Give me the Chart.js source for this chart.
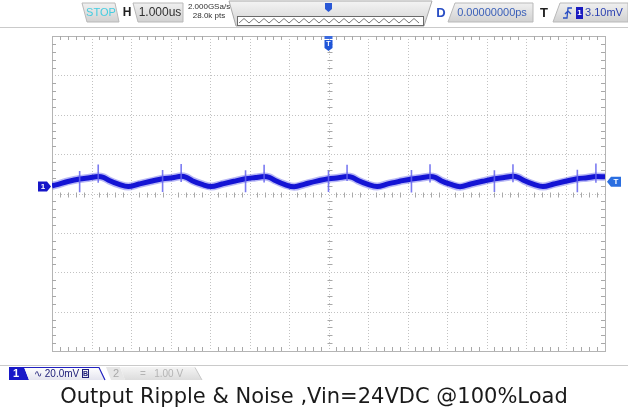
<!DOCTYPE html>
<html><head><meta charset="utf-8">
<script src="https://cdn.jsdelivr.net/npm/chart.js@4.4.0/dist/chart.umd.min.js"></script>
<style>html,body{margin:0;padding:0;background:#fff;overflow:hidden}</style>
</head><body>
<canvas id="c" width="628" height="412"></canvas>
<script>
// ---- data (time in microseconds relative to trigger, voltage in mV) ----
const timeUs = [-7.00,-6.90,-6.60,-6.30,-6.05,-5.83,-5.70,-5.55,-5.30,-5.07,
  -4.80,-4.50,-4.20,-3.95,-3.73,-3.60,-3.45,-3.20,-2.97,
  -2.70,-2.40,-2.10,-1.85,-1.63,-1.50,-1.35,-1.10,-0.87,
  -0.60,-0.30,0.00,0.25,0.47,0.60,0.75,1.00,1.23,
  1.50,1.80,2.10,2.35,2.57,2.70,2.85,3.10,3.33,
  3.60,3.90,4.20,4.45,4.67,4.80,4.95,5.20,5.43,
  5.70,6.00,6.30,6.55,6.77,7.00];
const rippleMv = [3.9,4.4,6.1,7.4,8.0,8.6,8.2,6.6,4.6,3.5,
  4.8,6.2,7.5,8.0,8.7,8.2,6.5,4.6,3.5,
  4.8,6.2,7.5,8.1,8.6,8.2,6.6,4.5,3.4,
  4.8,6.3,7.5,8.0,8.6,8.2,6.6,4.6,3.5,
  4.9,6.2,7.4,8.0,8.6,8.2,6.5,4.6,3.4,
  4.8,6.2,7.5,8.1,8.7,8.2,6.6,4.6,3.5,
  4.8,6.2,7.5,8.0,8.6,8.5];
const spikeUs = [-6.30,-5.83,-4.20,-3.73,-2.10,-1.63,0.00,0.47,2.10,2.57,4.20,4.67,6.30,6.77];
const spikeTopMv = [11.4,14.7,12.0,15.0,11.8,14.6,11.7,14.6,12.0,14.8,11.8,14.9,12.1,15.2];
const spikeBottomMv = [0.6,5.4,0.8,5.8,0.6,5.6,0.7,6.4,0.5,5.6,0.8,5.7,0.6,5.5];
const xDivUs = [-6,-5,-4,-3,-2,-1,0,1,2,3,4,5,6];
const yDivMv = [-60,-40,-20,0,20,40,60];
const captionText = 'Output Ripple & Noise ,Vin=24VDC @100%Load';

const tracePts = timeUs.map((t,i)=>({x:t,y:rippleMv[i]}));
const spikePts = [];
spikeUs.forEach((t,i)=>{ spikePts.push({x:t,y:spikeTopMv[i]}); spikePts.push({x:t,y:spikeBottomMv[i]}); spikePts.push({x:t,y:null}); });

function poly(ctx, pts, fill, stroke, lw){
  ctx.beginPath(); ctx.moveTo(pts[0][0],pts[0][1]);
  for(let i=1;i<pts.length;i++) ctx.lineTo(pts[i][0],pts[i][1]);
  ctx.closePath();
  if(fill){ctx.fillStyle=fill; ctx.fill();}
  if(stroke){ctx.strokeStyle=stroke; ctx.lineWidth=lw||1; ctx.stroke();}
}
function grad(ctx,y0,y1,c0,c1){const g=ctx.createLinearGradient(0,y0,0,y1); g.addColorStop(0,c0); g.addColorStop(1,c1); return g;}
function txt(ctx,s,x,y,font,color,align){ctx.font=font; ctx.fillStyle=color; ctx.textAlign=align||'left'; ctx.textBaseline='middle'; ctx.fillText(s,x,y);}

const scopePlugin = {
  id:'scope',
  beforeDatasetsDraw(chart){
    const ctx=chart.ctx, ca=chart.chartArea, xs=chart.scales.x, ys=chart.scales.y;
    ctx.save();
    ctx.strokeStyle='#c2c2c2'; ctx.lineWidth=1; ctx.setLineDash([1,2]);
    xDivUs.forEach(v=>{const p=Math.round(xs.getPixelForValue(v))+0.5; ctx.beginPath(); ctx.moveTo(p,ca.top); ctx.lineTo(p,ca.bottom); ctx.stroke();});
    yDivMv.forEach(v=>{const p=Math.round(ys.getPixelForValue(v))+0.5; ctx.beginPath(); ctx.moveTo(ca.left,p); ctx.lineTo(ca.right,p); ctx.stroke();});
    ctx.setLineDash([]);
    ctx.strokeStyle='#b4b4b4';
    ctx.strokeRect(Math.round(ca.left)+0.5,Math.round(ca.top)+0.5,Math.round(ca.right-ca.left),Math.round(ca.bottom-ca.top));
    ctx.strokeStyle='#a8a8a8';
    const cx=Math.round(xs.getPixelForValue(0))+0.5, cy=Math.round(ys.getPixelForValue(0))+0.5;
    ctx.beginPath();
    for(let k=1;k<70;k++){
      if(k%5===0) continue;
      const p=Math.round(xs.getPixelForValue(-7+k*0.2))+0.5;
      ctx.moveTo(p,ca.top); ctx.lineTo(p,ca.top+4);
      ctx.moveTo(p,ca.bottom); ctx.lineTo(p,ca.bottom-4);
      ctx.moveTo(p,cy-2); ctx.lineTo(p,cy+3);
    }
    for(let k=1;k<40;k++){
      if(k%5===0) continue;
      const p=Math.round(ys.getPixelForValue(-80+k*4))+0.5;
      ctx.moveTo(ca.left,p); ctx.lineTo(ca.left+4,p);
      ctx.moveTo(ca.right,p); ctx.lineTo(ca.right-4,p);
      ctx.moveTo(cx-2,p); ctx.lineTo(cx+3,p);
    }
    ctx.stroke();
    ctx.restore();
  },
  afterDraw(chart){
    const ctx=chart.ctx, xs=chart.scales.x, ys=chart.scales.y;
    ctx.save();
    ctx.strokeStyle='#cacaca'; ctx.lineWidth=1;
    ctx.beginPath(); ctx.moveTo(0,27.5); ctx.lineTo(628,27.5); ctx.stroke();
    ctx.beginPath(); ctx.moveTo(0,365.5); ctx.lineTo(628,365.5); ctx.stroke();
    const gBox = grad(ctx,2,23,'#f2f2f2','#cfcfcf');
    poly(ctx,[[82,3],[115,3],[119,22],[87,22]],gBox,'#b9b9b9');
    txt(ctx,'STOP',101,13,'11px "Liberation Sans"','#45cde0','center');
    txt(ctx,'H',127,13,'bold 12px "Liberation Sans"','#202020','center');
    poly(ctx,[[133,3],[183,3],[183,22],[138,22]],gBox,'#b9b9b9');
    txt(ctx,'1.000us',160,13,'12px "Liberation Sans"','#303030','center');
    txt(ctx,'2.000GSa/s',209,7,'8px "Liberation Sans"','#303030','center');
    txt(ctx,'28.0k pts',209,16,'8px "Liberation Sans"','#303030','center');
    poly(ctx,[[229,1],[432,1],[424,26],[236,26]],grad(ctx,1,26,'#f4f4f4','#d2d2d2'),'#a9a9a9');
    ctx.fillStyle='#ffffff'; ctx.fillRect(238,17,185,8);
    ctx.strokeStyle='#6a6a6a'; ctx.strokeRect(237.5,16.5,186,9);
    ctx.strokeStyle='#555'; ctx.lineWidth=0.8; ctx.beginPath();
    for(let x=239,i=0;x<=422;x+=5,i++){ const y= i%2? 18.5:23; if(i===0) ctx.moveTo(x,y); else ctx.lineTo(x,y);} ctx.stroke();
    ctx.lineWidth=1;
    poly(ctx,[[325,3],[332,3],[332,9],[328.5,12],[325,9]],'#2a58d6',null);
    txt(ctx,'D',441,13,'bold 13px "Liberation Sans"','#2a4fc4','center');
    poly(ctx,[[455,3],[533,3],[533,22],[448,22]],gBox,'#b9b9b9');
    txt(ctx,'0.00000000ps',492,13,'11px "Liberation Sans"','#3a5fb8','center');
    txt(ctx,'T',544,13,'bold 13px "Liberation Sans"','#202020','center');
    poly(ctx,[[560,3],[628,3],[628,22],[553,22]],gBox,'#b9b9b9');
    ctx.strokeStyle='#2a4fc4'; ctx.lineWidth=1.3; ctx.beginPath();
    ctx.moveTo(563,18); ctx.lineTo(567,18); ctx.lineTo(568,8); ctx.lineTo(572,8); ctx.moveTo(565,14); ctx.lineTo(568,11); ctx.lineTo(571,14); ctx.stroke();
    ctx.fillStyle='#1a1ac0'; ctx.fillRect(576,7,7,12);
    txt(ctx,'1',579.5,13,'bold 8px "Liberation Sans"','#ffffff','center');
    txt(ctx,'3.10mV',604,13,'11px "Liberation Sans"','#2a3fb0','center');
    // bottom bar
    poly(ctx,[[9,367],[24,367],[29,380],[9,380]],'#1818c8',null);
    txt(ctx,'1',16,374,'bold 11px "Liberation Sans"','#ffffff','center');
    poly(ctx,[[24,367],[99,367],[105,380],[29,380]],grad(ctx,367,380,'#ffffff','#e4e4ee'),null);
    ctx.strokeStyle='#2020c0'; ctx.lineWidth=1.2; ctx.beginPath(); ctx.moveTo(24,367.5); ctx.lineTo(99,367.5); ctx.lineTo(105,380); ctx.stroke();
    txt(ctx,'\u223F 20.0mV',34,374,'10px "Liberation Sans"','#20207a','left');
    ctx.strokeStyle='#20207a'; ctx.lineWidth=1; ctx.strokeRect(82.5,369.5,6,8);
    txt(ctx,'B',85.5,374,'bold 7px "Liberation Sans"','#20207a','center');
    poly(ctx,[[106,367],[120,367],[125,380],[111,380]],'#e6e6e6',null);
    txt(ctx,'2',116,374,'11px "Liberation Sans"','#a8a8a8','center');
    poly(ctx,[[120,367],[195,367],[202,380],[125,380]],grad(ctx,367,380,'#f4f4f4','#dcdcdc'),null);
    ctx.strokeStyle='#c8c8c8'; ctx.beginPath(); ctx.moveTo(195,367.5); ctx.lineTo(202,380); ctx.stroke();
    txt(ctx,'=   1.00 V',140,374,'10px "Liberation Sans"','#b4b4b4','left');
    // markers
    const cx=xs.getPixelForValue(0);
    poly(ctx,[[cx-4,36],[cx+4,36],[cx+4,39],[cx-4,39]],'#3a6ae0',null);
    poly(ctx,[[cx-4,40],[cx+4,40],[cx+4,48],[cx,51],[cx-4,48]],'#1f55d8',null);
    txt(ctx,'T',cx,44.5,'bold 7px "Liberation Sans"','#ffffff','center');
    const gy=ys.getPixelForValue(3.5);
    poly(ctx,[[38,gy-5],[47,gy-5],[51,gy],[47,gy+5],[38,gy+5]],'#1616c8',null);
    txt(ctx,'1',43,gy+0.5,'bold 8px "Liberation Sans"','#ffffff','center');
    const ty=ys.getPixelForValue(6.0);
    poly(ctx,[[607,ty],[611,ty-5],[621,ty-5],[621,ty+5],[611,ty+5]],'#2a6ee0',null);
    txt(ctx,'T',616,ty+0.5,'bold 8px "Liberation Sans"','#ffffff','center');
    ctx.restore();
  }
};

const hiddenAxis = (w,pos)=>({type:'linear',position:pos,min:-80,max:80,display:true,
  ticks:{display:false},grid:{display:false},border:{display:false},title:{display:false},
  afterFit(s){s.width=w;}});

new Chart(document.getElementById('c'),{
  type:'line',
  data:{datasets:[
    {data:spikePts, borderColor:'rgba(100,100,238,0.85)', borderWidth:1.6, pointRadius:0, spanGaps:false, tension:0},
    {data:tracePts, borderColor:'#1414d4', borderWidth:5, pointRadius:0, cubicInterpolationMode:'monotone'},
    {data:tracePts, borderColor:'rgba(50,50,225,0.35)', borderWidth:8, pointRadius:0, cubicInterpolationMode:'monotone'}
  ]},
  options:{
    responsive:false, animation:false, devicePixelRatio:1,
    layout:{padding:{left:0,right:0,top:36,bottom:0}},
    scales:{
      x:{type:'linear',min:-7,max:7,display:false},
      y:hiddenAxis(52,'left'),
      y2:hiddenAxis(23,'right')
    },
    plugins:{
      legend:{display:false}, tooltip:{enabled:false},
      title:{display:true,text:captionText,position:'bottom',color:'#1a1a1a',
        font:{family:'"DejaVu Sans"',size:21,weight:'normal',lineHeight:1.2},padding:{top:34,bottom:1.8}}
    }
  },
  plugins:[scopePlugin]
});
</script>
</body></html>
